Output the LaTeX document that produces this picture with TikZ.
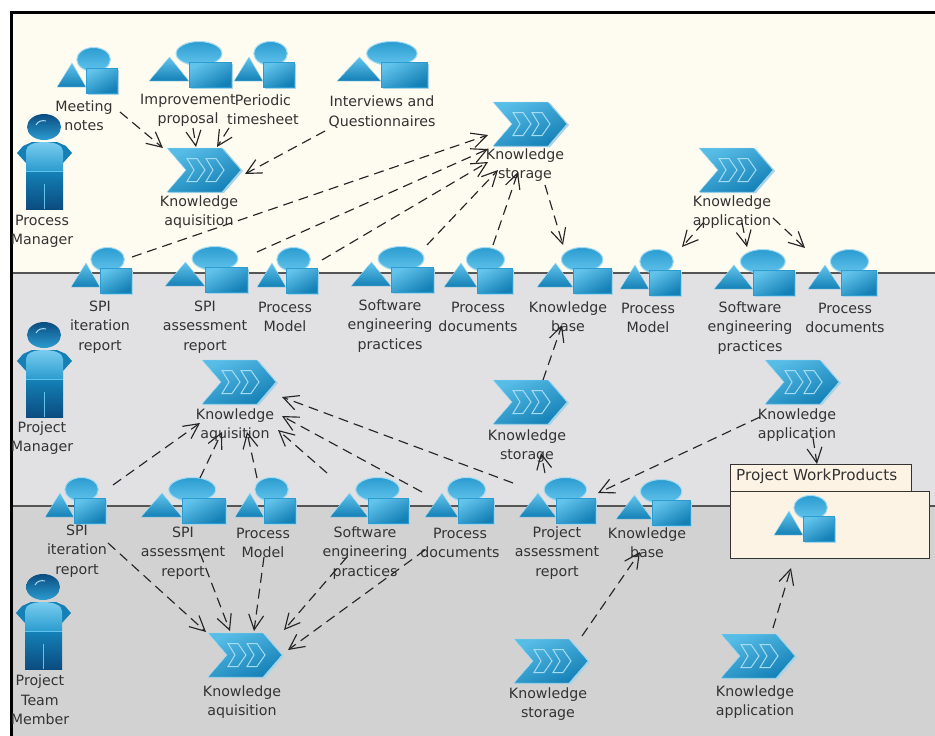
\documentclass[tikz,border=0pt]{standalone}
\usepackage{fontspec}
\setmainfont{DejaVu Sans}
\usepackage{tikz}
\usetikzlibrary{calc}
\usetikzlibrary{arrows.meta}

\definecolor{creamzone}{HTML}{FEFBF0}
\definecolor{midzone}{HTML}{E1E1E3}
\definecolor{lowzone}{HTML}{D2D2D2}
\definecolor{zoneline}{HTML}{555555}
\definecolor{packfill}{HTML}{FCF3E5}
\definecolor{labeltext}{HTML}{333333}
\definecolor{iconlight}{HTML}{62C4EC}
\definecolor{iconmid}{HTML}{2B9CD0}
\definecolor{icondark}{HTML}{1480B6}
\definecolor{iconedge}{HTML}{A5DCF1}
\definecolor{iconhalo}{HTML}{A9D4E8}
\definecolor{legdark}{HTML}{0B4C80}

\tikzset{
  flow/.style={dashed,dash pattern=on 10pt off 6pt,line width=1.15pt,color=black!85,
    -{Straight Barb[length=15pt,width=15pt]}},
  anchorbox/.style={inner sep=0pt,minimum size=0pt},
  itemtext/.style={align=center,inner sep=0pt,text=labeltext,
    font=\fontsize{14.2}{19.4}\selectfont},
  pics/workitem/.style={code={
    \fill[iconhalo] (-1+1.5,-3+1.5) rectangle (#1+1.5,22+1.5);
    \shade[draw=iconedge,top color=iconlight,bottom color=icondark] (-#1,16) -- (-#1/2,-8) -- (-1,16) -- cycle;
    \shade[draw=iconedge,line width=1pt,top color=iconmid,bottom color=iconlight] (0.22*#1,-11.5) ellipse [x radius=0.56*#1,y radius=12];
    \shade[draw=iconmid,top color=iconlight,bottom color=icondark,shading angle=30] (-1,-3) rectangle (#1,22);
  }},
  pics/stepchevron/.style={code={
    \fill[iconhalo] (-36,-21) -- (20,-21) -- (39,1) -- (20,23) -- (-36,23) -- (-17,1) -- cycle;
    \shade[draw=iconedge,top color=iconlight!80!iconmid,bottom color=icondark,shading angle=25] (-37,-22) -- (18,-22) -- (37,0) -- (18,22) -- (-37,22) -- (-18,0) -- cycle;
    \draw[iconedge,line width=1pt] (-17,-11.5) -- (-7,-11.5) -- (1,0) -- (-7,11.5) -- (-17,11.5) -- (-10,0) -- cycle;
    \draw[iconedge,line width=1pt] (2,-11.5) -- (12,-11.5) -- (20,0) -- (12,11.5) -- (2,11.5) -- (9,0) -- cycle;
  }},
  pics/actor/.style={code={
    \fill[icondark] (-12,15) -- (-21,19) -- (-27,26) -- (-18,36) -- (19,36) -- (28,26) -- (22,19) -- (13,15) -- cycle;
    \shade[top color=iconlight!85!white,bottom color=iconmid] (-18,44) -- (-18,24) .. controls (-18,18) and (-10,15) .. (0,15) .. controls (10,15) and (19,18) .. (19,24) -- (19,44) -- cycle;
    \shade[top color=icondark,bottom color=legdark] (-18,45) rectangle (19,82);
    \draw[iconlight,line width=1pt] (-18,44.5) -- (19,44.5);
    \draw[iconlight,line width=1pt] (0,57) -- (0,82);
    \shade[top color=legdark,bottom color=iconmid] (0,0) ellipse [x radius=17,y radius=13];
    \draw[iconedge,line width=1pt] (-8,-2) .. controls (-6,-6) and (-2,-7) .. (2,-6);
  }}
}

\begin{document}
\begin{tikzpicture}[x=1pt,y=-1pt]
    \useasboundingbox (0,0) rectangle (935,736);

    % zones
    \fill[white] (0,0) rectangle (935,736);
    \fill[creamzone] (11,12) rectangle (935,273);
    \fill[midzone] (11,273) rectangle (935,506);
    \fill[lowzone] (11,506) rectangle (935,736);
    \draw[zoneline,line width=1.4pt] (11,273) -- (935,273);
    \draw[zoneline,line width=1.4pt] (11,506) -- (935,506);
    \draw[black,line width=3pt] (11.5,736) -- (11.5,12.5) -- (935,12.5);

    % people
    \node[anchorbox] (processManager) at (44,127) {};
    \pic at (processManager) {actor};
    \node[itemtext] (processManagerText) at (42,231) {Process\\Manager};
    \node[anchorbox] (projectManager) at (44,335) {};
    \pic at (projectManager) {actor};
    \node[itemtext] (projectManagerText) at (42,438) {Project\\Manager};
    \node[anchorbox] (teamMember) at (43,587) {};
    \pic at (teamMember) {actor};
    \node[itemtext] (teamMemberText) at (40,700) {Project\\Team\\Member};

    % package
    \node[draw=black!80,fill=packfill,line width=1pt,minimum width=181pt,minimum height=27pt,inner sep=0pt] (productTab) at (820.5,477.5) {};
    \node[itemtext,anchor=west,font=\fontsize{15.2}{19.4}\selectfont] (productTabText) at (736,476) {Project WorkProducts};
    \node[draw=black!80,fill=packfill,line width=1pt,minimum width=199pt,minimum height=67pt,inner sep=0pt] (productBox) at (829.5,524.5) {};

    % top row
    \node[anchorbox] (notes) at (87,71) {};
    \pic at (notes) {workitem=30};
    \node[itemtext] (notesText) at (84,116) {Meeting\\notes};
    \node[anchorbox] (improve) at (190,65) {};
    \pic at (improve) {workitem=41};
    \node[itemtext] (improveText) at (188,110) {Improvement\\proposal};
    \node[anchorbox] (periodic) at (264,65) {};
    \pic at (periodic) {workitem=30};
    \node[itemtext] (periodicText) at (263,110) {Periodic\\timesheet};
    \node[anchorbox] (interview) at (382,65) {};
    \pic at (interview) {workitem=45};
    \node[itemtext] (interviewText) at (382,112) {Interviews and\\Questionnaires};

    % steps
    \node[anchorbox] (kaTop) at (204,170) {};
    \pic at (kaTop) {stepchevron};
    \node[itemtext] (kaTopText) at (199,212) {Knowledge\\aquisition};
    \node[anchorbox] (ksTop) at (530,124) {};
    \pic at (ksTop) {stepchevron};
    \node[itemtext] (ksTopText) at (525,165) {Knowledge\\storage};
    \node[anchorbox] (kappTop) at (736,170) {};
    \pic at (kappTop) {stepchevron};
    \node[itemtext] (kappTopText) at (732,212) {Knowledge\\application};
    \node[anchorbox] (kaMid) at (239,382) {};
    \pic at (kaMid) {stepchevron};
    \node[itemtext] (kaMidText) at (235,425) {Knowledge\\aquisition};
    \node[anchorbox] (ksMid) at (530,402) {};
    \pic at (ksMid) {stepchevron};
    \node[itemtext] (ksMidText) at (527,446) {Knowledge\\storage};
    \node[anchorbox] (kappMid) at (802,382) {};
    \pic at (kappMid) {stepchevron};
    \node[itemtext] (kappMidText) at (797,425) {Knowledge\\application};
    \node[anchorbox] (kaLow) at (245,655) {};
    \pic at (kaLow) {stepchevron};
    \node[itemtext] (kaLowText) at (242,702) {Knowledge\\aquisition};
    \node[anchorbox] (ksLow) at (551,661) {};
    \pic at (ksLow) {stepchevron};
    \node[itemtext] (ksLowText) at (548,704) {Knowledge\\storage};
    \node[anchorbox] (kappLow) at (758,656) {};
    \pic at (kappLow) {stepchevron};
    \node[itemtext] (kappLowText) at (755,702) {Knowledge\\application};

    % middle row
    \node[anchorbox] (spiTop) at (101,271) {};
    \pic at (spiTop) {workitem=30};
    \node[itemtext] (spiTopText) at (100,327) {SPI\\iteration\\report};
    \node[anchorbox] (assessTop) at (206,270) {};
    \pic at (assessTop) {workitem=41};
    \node[itemtext] (assessTopText) at (205,327) {SPI\\assessment\\report};
    \node[anchorbox] (modelTop) at (287,271) {};
    \pic at (modelTop) {workitem=30};
    \node[itemtext] (modelTopText) at (285,317) {Process\\Model};
    \node[anchorbox] (practicesTop) at (392,270) {};
    \pic at (practicesTop) {workitem=41};
    \node[itemtext] (practicesTopText) at (390,326) {Software\\engineering\\practices};
    \node[anchorbox] (docsTop) at (478,271) {};
    \pic at (docsTop) {workitem=34};
    \node[itemtext] (docsTopText) at (478,317) {Process\\documents};
    \node[anchorbox] (baseTop) at (574,271) {};
    \pic at (baseTop) {workitem=37};
    \node[itemtext] (baseTopText) at (568,317) {Knowledge\\base};
    \node[anchorbox] (modelRight) at (650,273) {};
    \pic at (modelRight) {workitem=30};
    \node[itemtext] (modelRightText) at (648,318) {Process\\Model};
    \node[anchorbox] (practicesRight) at (754,273) {};
    \pic at (practicesRight) {workitem=40};
    \node[itemtext] (practicesRightText) at (750,328) {Software\\engineering\\practices};
    \node[anchorbox] (docsRight) at (842,273) {};
    \pic at (docsRight) {workitem=34};
    \node[itemtext] (docsRightText) at (845,318) {Process\\documents};

    % low row
    \node[anchorbox] (spiLow) at (75,501) {};
    \pic at (spiLow) {workitem=30};
    \node[itemtext] (spiLowText) at (77,551) {SPI\\iteration\\report};
    \node[anchorbox] (assessLow) at (183,501) {};
    \pic at (assessLow) {workitem=42};
    \node[itemtext] (assessLowText) at (183,553) {SPI\\assessment\\report};
    \node[anchorbox] (modelLow) at (265,501) {};
    \pic at (modelLow) {workitem=30};
    \node[itemtext] (modelLowText) at (263,543) {Process\\Model};
    \node[anchorbox] (practicesLow) at (369,501) {};
    \pic at (practicesLow) {workitem=39};
    \node[itemtext] (practicesLowText) at (365,553) {Software\\engineering\\practices};
    \node[anchorbox] (docsLow) at (459,501) {};
    \pic at (docsLow) {workitem=34};
    \node[itemtext] (docsLowText) at (460,543) {Process\\documents};
    \node[anchorbox] (projectLow) at (557,501) {};
    \pic at (projectLow) {workitem=38};
    \node[itemtext] (projectLowText) at (557,553) {Project\\assessment\\report};
    \node[anchorbox] (baseLow) at (653,503) {};
    \pic at (baseLow) {workitem=37};
    \node[itemtext] (baseLowText) at (647,543) {Knowledge\\base};
    \node[anchorbox] (productItem) at (804,519) {};
    \pic at (productItem) {workitem=30};

    % flows
    \draw[flow] ($(notes)+(33,41)$) -- ($(kaTop)+(-41,-22)$);
    \draw[flow] ($(improve)+(3,63)$) -- ($(kaTop)+(-8,-23)$);
    \draw[flow] ($(periodic)+(-35,63)$) -- ($(kaTop)+(13,-23)$);
    \draw[flow] ($(interview)+(-57,66)$) -- ($(kaTop)+(41,4)$);
    \draw[flow] ($(spiTop)+(31,-14)$) -- ($(ksTop)+(-42,11)$);
    \draw[flow] ($(assessTop)+(51,-18)$) -- ($(ksTop)+(-42,25)$);
    \draw[flow] ($(modelTop)+(35,-11)$) -- ($(ksTop)+(-42,38)$);
    \draw[flow] ($(practicesTop)+(35,-25)$) -- ($(ksTop)+(-32,46)$);
    \draw[flow] ($(docsTop)+(15,-26)$) -- ($(ksTop)+(-12,48)$);
    \draw[flow] ($(ksTop)+(15,61)$) -- ($(baseTop)+(-11,-26)$);
    \draw[flow] ($(kappTop)+(-33,53)$) -- ($(modelRight)+(32,-26)$);
    \draw[flow] ($(kappTop)+(6,53)$) -- ($(practicesRight)+(-7,-26)$);
    \draw[flow] ($(kappTop)+(37,48)$) -- ($(docsRight)+(-37,-25)$);
    \draw[flow] ($(ksMid)+(13,-22)$) -- ($(baseTop)+(-12,54)$);
    \draw[flow] ($(spiLow)+(38,-16)$) -- ($(kaMid)+(-39,41)$);
    \draw[flow] ($(assessLow)+(17,-23)$) -- ($(kaMid)+(-17,50)$);
    \draw[flow] ($(modelLow)+(-8,-23)$) -- ($(kaMid)+(8,50)$);
    \draw[flow] ($(practicesLow)+(-42,-28)$) -- ($(kaMid)+(39,48)$);
    \draw[flow] ($(docsLow)+(-37,-9)$) -- ($(kaMid)+(43,34)$);
    \draw[flow] ($(projectLow)+(-44,-18)$) -- ($(kaMid)+(43,15)$);
    \draw[flow] ($(projectLow)+(-12,-28)$) -- ($(ksMid)+(11,51)$);
    \draw[flow] ($(kappMid)+(-42,35)$) -- ($(projectLow)+(41,-8)$);
    \draw[flow] ($(kappMid)+(11,56)$) -- ($(productTab)+(-3.5,-13.5)$);
    \draw[flow] ($(spiLow)+(33,42)$) -- ($(kaLow)+(-39,-23)$);
    \draw[flow] ($(assessLow)+(17,52)$) -- ($(kaLow)+(-15,-24)$);
    \draw[flow] ($(modelLow)+(-1,56)$) -- ($(kaLow)+(9,-24)$);
    \draw[flow] ($(practicesLow)+(-22,56)$) -- ($(kaLow)+(39,-25)$);
    \draw[flow] ($(docsLow)+(-34,49)$) -- ($(kaLow)+(43,-5)$);
    \draw[flow] ($(ksLow)+(31,-25)$) -- ($(baseLow)+(-13,49)$);
    \draw[flow] ($(kappLow)+(15,-28)$) -- ($(productBox)+(-38.5,43.5)$);
\end{tikzpicture}
\end{document}
